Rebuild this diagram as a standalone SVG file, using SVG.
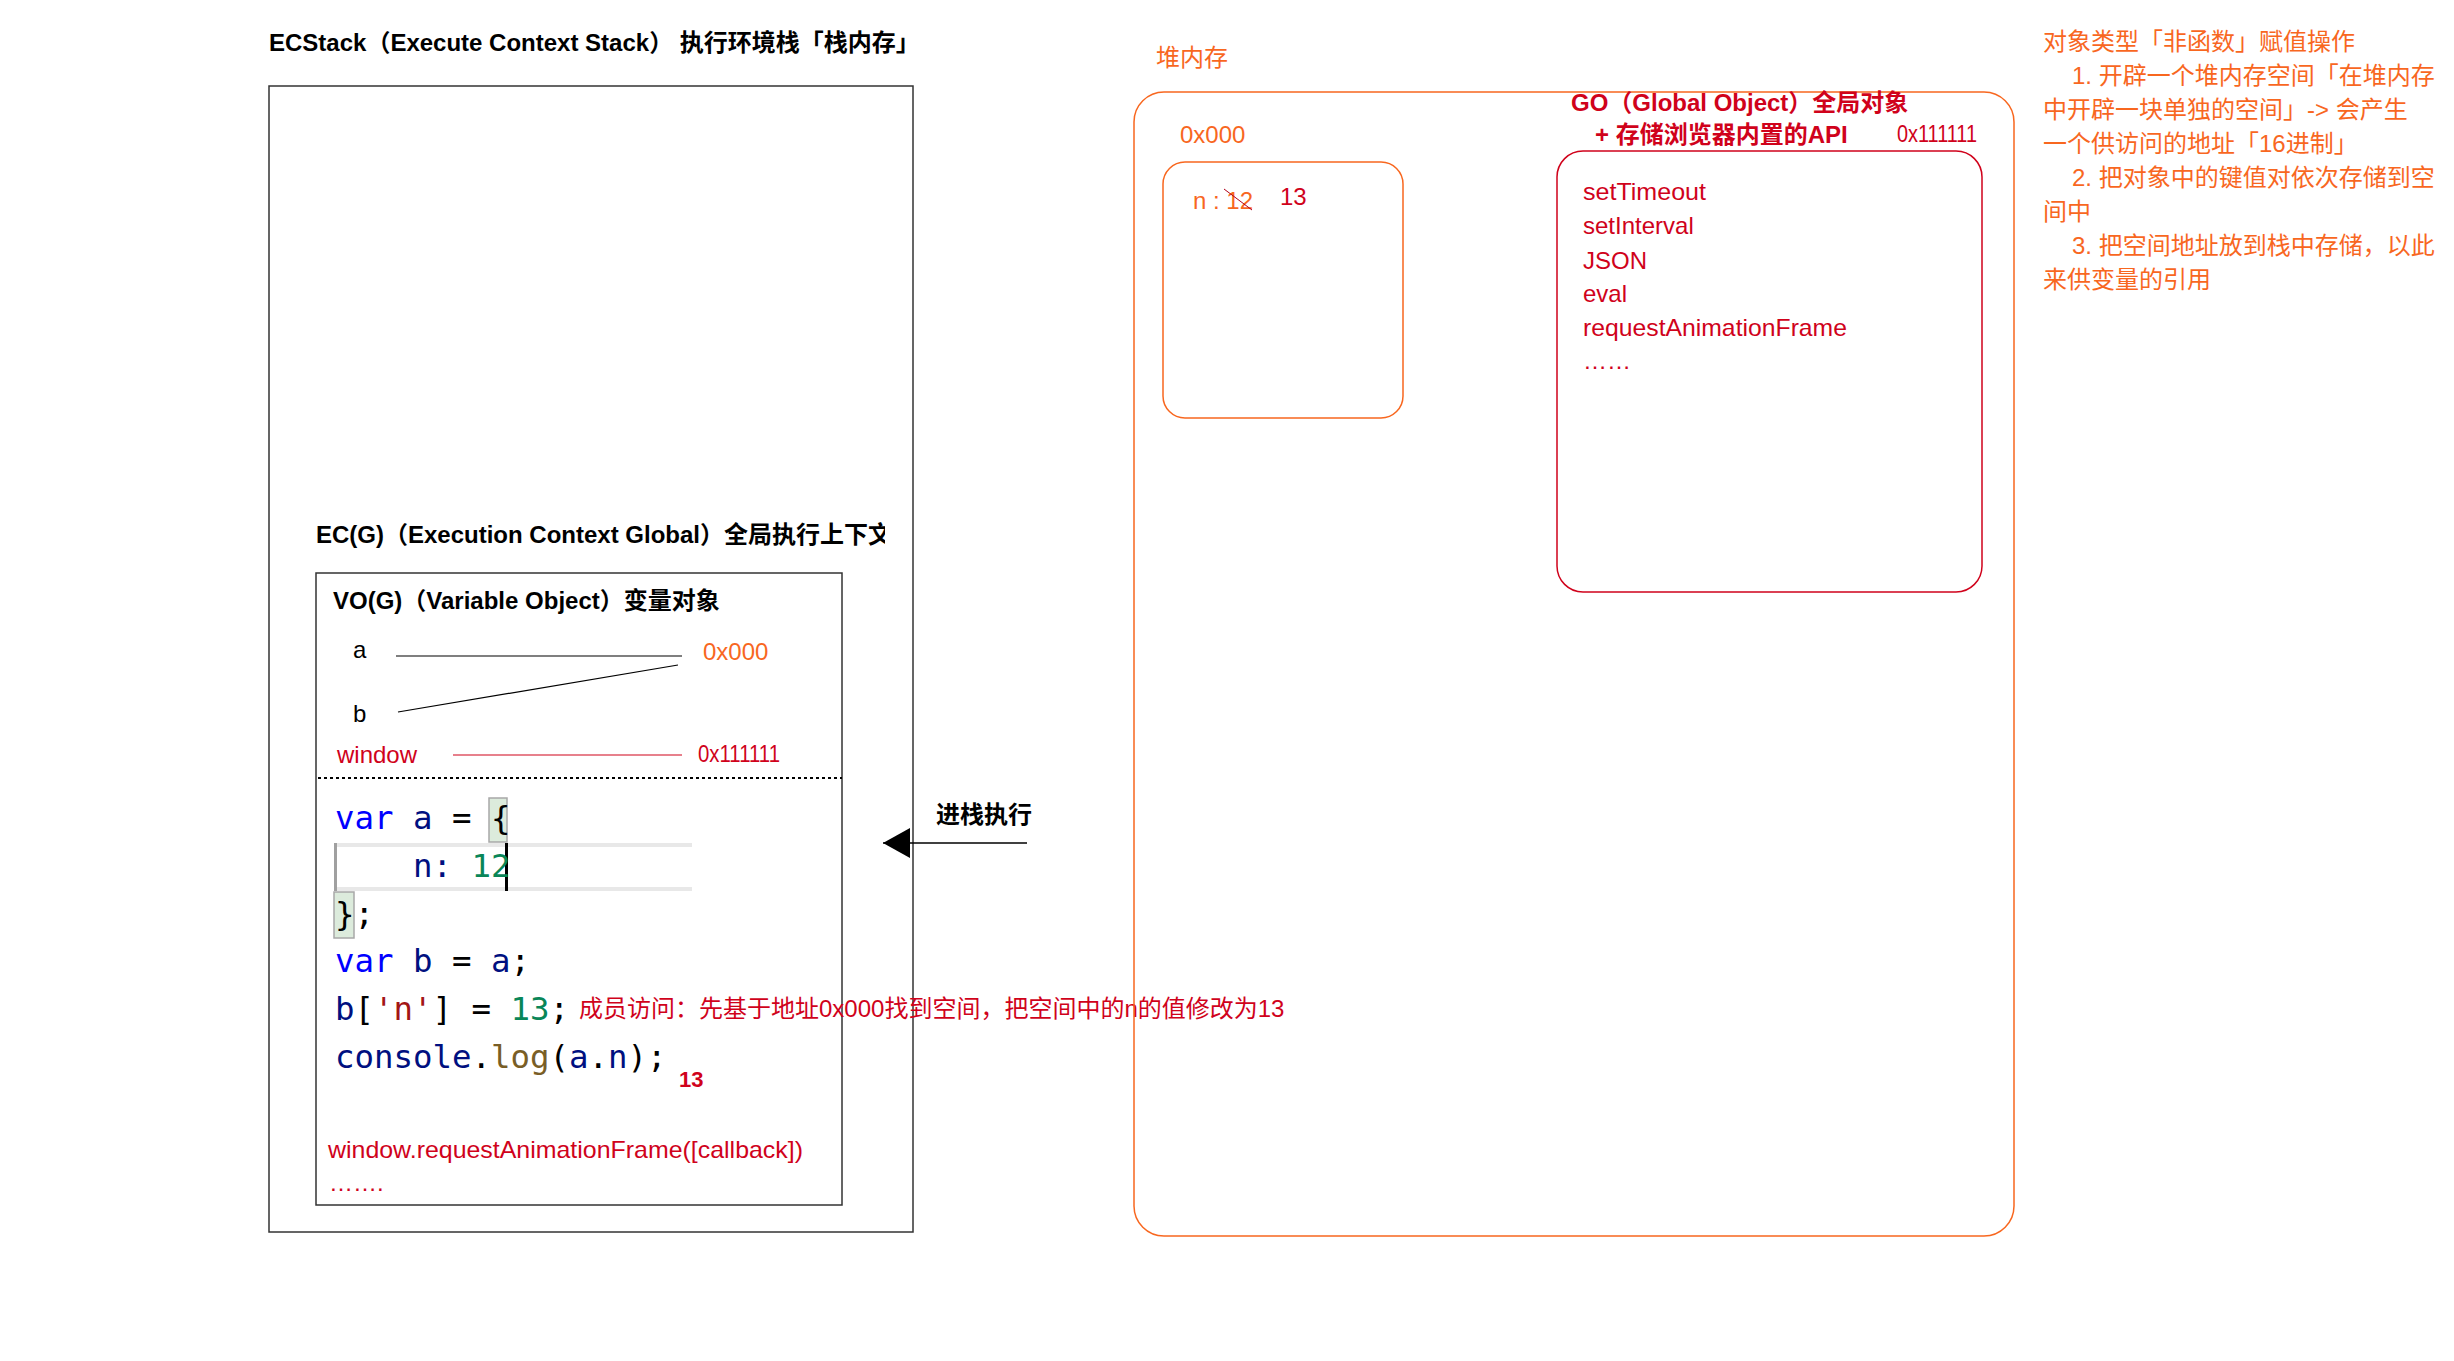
<svg xmlns="http://www.w3.org/2000/svg" width="2454" height="1361" viewBox="0 0 2454 1361">
  <style>
    text { font-family: "Liberation Sans", "Noto Sans CJK SC", sans-serif; font-size: 24px; fill: #000; }
    .b { font-weight: bold; }
    .org { fill: #f8671f; }
    .red { fill: #d0021b; }
    .code { font-family: "DejaVu Sans Mono", "Liberation Mono", monospace; font-size: 32.4px; white-space: pre; }
    .kw { fill: #0000ff; }
    .id { fill: #001080; }
    .num { fill: #098658; }
    .str { fill: #a31515; }
    .fn { fill: #795e26; }
    .frame { fill: none; stroke: #333; stroke-width: 1.5; }
    .heapbox { fill: none; stroke: #f8671f; stroke-width: 1.5; }
    .gobox { fill: none; stroke: #d0021b; stroke-width: 1.5; }
    .hl { fill: #dcebdc; stroke: #a8a8a8; stroke-width: 1.5; }
    .bar { fill: #e8e8e8; }
  </style>
  <defs>
    <clipPath id="ecgClip">
      <rect x="300" y="500" width="585" height="60"/>
    </clipPath>
    <marker id="arrowHead" markerWidth="28" markerHeight="30" refX="27" refY="15" orient="auto" markerUnits="userSpaceOnUse">
      <path d="M0,0 L27,15 L0,30 z" fill="#000"/>
    </marker>
  </defs>

  <rect width="2454" height="1361" fill="#fff"/>

  <!-- execution context stack -->
  <g id="ecstack">
    <text class="b" x="269" y="51">ECStack（Execute Context Stack） 执行环境栈「栈内存」</text>
    <rect class="frame" x="269" y="86" width="644" height="1146"/>
  </g>

  <!-- global execution context -->
  <g id="ec-global">
    <text class="b" x="316" y="543" clip-path="url(#ecgClip)">EC(G)（Execution Context Global）全局执行上下文</text>
  </g>

  <!-- variable object + code -->
  <g id="vo-global">
    <rect class="frame" x="316" y="573" width="526" height="632"/>
    <text class="b" x="333" y="609">VO(G)（Variable Object）变量对象</text>
    <text x="353" y="658">a</text>
    <text class="org" x="703" y="660">0x000</text>
    <text x="353" y="722">b</text>
    <text class="red" x="337" y="763">window</text>
    <text class="red" x="698" y="762" textLength="82" lengthAdjust="spacingAndGlyphs">0x111111</text>
    <line x1="318" y1="778" x2="842" y2="778" stroke="#000" stroke-width="2" stroke-dasharray="3,3"/>

    <!-- editor decorations -->
    <rect class="hl" x="489" y="798" width="18" height="44"/>
    <rect class="bar" x="334" y="843" width="358" height="4"/>
    <rect class="bar" x="334" y="887" width="358" height="4"/>
    <rect x="334" y="843" width="3" height="48" fill="#a0a0a0"/>
    <rect x="505" y="843" width="3" height="48" fill="#000"/>
    <rect class="hl" x="334" y="892" width="20" height="46"/>

    <text class="code" x="335" y="829" xml:space="preserve"><tspan class="kw">var</tspan><tspan class="id"> a</tspan> = {</text>
    <text class="code" x="335" y="877" xml:space="preserve"><tspan class="id">    n:</tspan><tspan class="num"> 12</tspan></text>
    <text class="code" x="335" y="925" xml:space="preserve">};</text>
    <text class="code" x="335" y="972" xml:space="preserve"><tspan class="kw">var</tspan><tspan class="id"> b</tspan> = <tspan class="id">a</tspan>;</text>
    <text class="code" x="335" y="1020" xml:space="preserve"><tspan class="id">b</tspan>[<tspan class="str">'n'</tspan>] = <tspan class="num">13</tspan>;</text>
    <text class="code" x="335" y="1068" xml:space="preserve"><tspan class="id">console</tspan>.<tspan class="fn">log</tspan>(<tspan class="id">a</tspan>.<tspan class="id">n</tspan>);</text>

    <text class="red" x="579" y="1017">成员访问：先基于地址0x000找到空间，把空间中的n的值修改为13</text>
    <text class="red b" x="679" y="1087" style="font-size:22px">13</text>
    <text class="red" x="328" y="1158" textLength="475" lengthAdjust="spacingAndGlyphs">window.requestAnimationFrame([callback])</text>
    <text class="red" x="329" y="1191">…….</text>
  </g>

  <!-- heap memory -->
  <g id="heap">
    <text class="org" x="1156" y="66">堆内存</text>
    <rect class="heapbox" x="1134" y="92" width="880" height="1144" rx="30" ry="30"/>
  </g>

  <!-- object stored at 0x000 -->
  <g id="heap-obj-0x000">
    <text class="org" x="1180" y="143">0x000</text>
    <rect class="heapbox" x="1163" y="162" width="240" height="256" rx="22" ry="22"/>
    <text class="org" x="1193" y="209">n : 12</text>
    <line x1="1224" y1="189" x2="1252" y2="210" stroke="#b0001a" stroke-width="1"/>
    <text class="red" x="1280" y="205">13</text>
  </g>

  <!-- global object at 0x111111 -->
  <g id="global-object">
    <text class="red b" x="1571" y="111">GO（Global Object）全局对象</text>
    <text class="red b" x="1595" y="143">+ 存储浏览器内置的API</text>
    <text class="red" x="1897" y="142" textLength="80" lengthAdjust="spacingAndGlyphs">0x111111</text>
    <rect class="gobox" x="1557" y="151" width="425" height="441" rx="26" ry="26"/>
    <text class="red" x="1583" y="200" textLength="123" lengthAdjust="spacingAndGlyphs">setTimeout</text>
    <text class="red" x="1583" y="234">setInterval</text>
    <text class="red" x="1583" y="269">JSON</text>
    <text class="red" x="1583" y="302">eval</text>
    <text class="red" x="1583" y="336" textLength="264" lengthAdjust="spacingAndGlyphs">requestAnimationFrame</text>
    <text class="red" x="1583" y="369">……</text>
  </g>

  <!-- notes on object assignment -->
  <g id="note">
    <text class="org" x="2043" y="50">对象类型「非函数」赋值操作</text>
    <text class="org" x="2072" y="84">1. 开辟一个堆内存空间「在堆内存</text>
    <text class="org" x="2043" y="118">中开辟一块单独的空间」-&gt; 会产生</text>
    <text class="org" x="2043" y="152">一个供访问的地址「16进制」</text>
    <text class="org" x="2072" y="186">2. 把对象中的键值对依次存储到空</text>
    <text class="org" x="2043" y="220">间中</text>
    <text class="org" x="2072" y="254">3. 把空间地址放到栈中存储，以此</text>
    <text class="org" x="2043" y="288">来供变量的引用</text>
  </g>

  <!-- connectors -->
  <g id="connectors">
    <line x1="396" y1="656" x2="682" y2="656" stroke="#000" stroke-width="1.2"/>
    <line x1="398" y1="712" x2="678" y2="665" stroke="#000" stroke-width="1.2"/>
    <line x1="453" y1="755" x2="682" y2="755" stroke="#d0021b" stroke-width="1.2"/>
    <line x1="1027" y1="843" x2="883" y2="843" stroke="#000" stroke-width="1.5" marker-end="url(#arrowHead)"/>
    <text class="b" x="936" y="823">进栈执行</text>
  </g>
</svg>
